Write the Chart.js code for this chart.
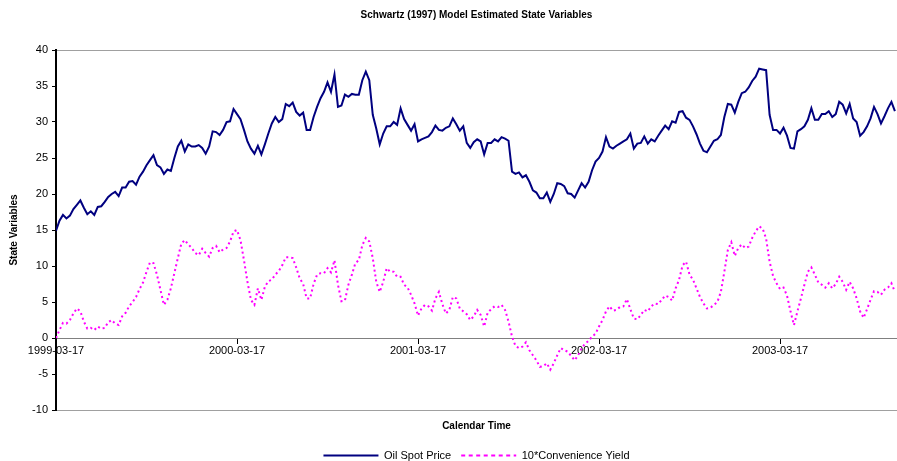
<!DOCTYPE html>
<html>
<head>
<meta charset="utf-8">
<script src="https://cdn.jsdelivr.net/npm/chart.js@4.4.0/dist/chart.umd.min.js"></script>
<style>
  body { margin: 0; background: #fff; }
  #wrap { width: 897px; height: 461px; }
</style>
</head>
<body>
<div id="wrap"><canvas id="stateChart"></canvas></div>
<script>
// weekly observations, week 0 = 1999-03-17
const oilSpotPrice = [
  14.9, 16.3, 17.1, 16.6, 17.0, 17.9, 18.5, 19.1, 18.1, 17.2,
  17.6, 17.1, 18.2, 18.3, 18.9, 19.6, 20.0, 20.3, 19.7, 20.9,
  20.9, 21.7, 21.8, 21.3, 22.4, 23.1, 24.0, 24.7, 25.4, 24.0,
  23.7, 22.8, 23.4, 23.2, 25.0, 26.6, 27.4, 25.9, 26.9, 26.6,
  26.6, 26.8, 26.4, 25.6, 26.6, 28.7, 28.6, 28.2, 28.9, 30.0,
  30.1, 31.8, 31.1, 30.4, 28.9, 27.3, 26.3, 25.6, 26.7, 25.5,
  26.9, 28.4, 29.8, 30.7, 30.0, 30.4, 32.5, 32.2, 32.7, 31.4,
  30.9, 31.3, 28.9, 28.9, 30.7, 32.1, 33.3, 34.2, 35.5, 34.2,
  36.6, 32.1, 32.3, 33.8, 33.5, 33.9, 33.8, 33.8, 35.8, 37.0,
  35.8, 31.0, 29.1, 26.9, 28.4, 29.4, 29.4, 30.0, 29.6, 31.9,
  30.4, 29.6, 28.8, 29.7, 27.3, 27.6, 27.8, 28.0, 28.6, 29.5,
  28.9, 28.8, 29.2, 29.4, 30.5, 29.7, 28.8, 29.4, 27.1, 26.4,
  27.2, 27.6, 27.3, 25.5, 27.1, 27.1, 27.6, 27.3, 27.9, 27.7,
  27.4, 23.1, 22.8, 23.0, 22.3, 22.6, 21.7, 20.5, 20.2, 19.4,
  19.4, 20.2, 18.9, 20.0, 21.5, 21.4, 21.1, 20.1, 20.0, 19.5,
  20.5, 21.5, 20.9, 21.7, 23.3, 24.5, 25.0, 25.9, 27.9, 26.6,
  26.3, 26.7, 27.0, 27.3, 27.6, 28.4, 26.3, 27.0, 27.1, 28.0,
  27.0, 27.6, 27.3, 28.1, 28.8, 29.5, 29.0, 30.1, 29.9, 31.4,
  31.5, 30.6, 30.3, 29.4, 28.3, 27.0, 26.0, 25.8, 26.6, 27.4,
  27.6, 28.2, 30.7, 32.5, 32.4, 31.3, 32.8, 34.0, 34.2, 34.8,
  35.7, 36.3, 37.4, 37.3, 37.2, 31.0, 28.9, 28.9, 28.4, 29.2,
  28.1, 26.4, 26.3, 28.7, 29.0, 29.4, 30.3, 31.9, 30.3, 30.3,
  31.1, 31.1, 31.5, 30.7, 31.1, 32.8, 32.4, 31.2, 32.5, 30.5,
  30.0, 28.1, 28.6, 29.4, 30.5, 32.1, 31.1, 29.8, 30.8, 31.9,
  32.8, 31.5
];

const convenienceYield10 = [
  0.0, 1.1, 2.1, 2.0, 2.5, 3.4, 4.1, 3.7, 2.3, 1.3,
  1.4, 1.1, 1.6, 1.3, 1.4, 2.2, 2.5, 2.0, 1.8, 3.0,
  3.5, 4.4, 5.0, 5.7, 6.8, 7.7, 9.2, 10.5, 10.4, 8.8,
  6.7, 4.6, 5.3, 6.9, 9.0, 11.1, 13.1, 13.6, 13.0, 12.5,
  11.8, 11.5, 12.4, 11.8, 11.3, 12.5, 12.8, 11.9, 12.3, 12.5,
  13.4, 14.8, 15.0, 13.6, 10.8, 7.8, 5.3, 4.6, 6.9, 5.3,
  7.1, 7.9, 8.1, 8.8, 9.3, 10.1, 11.2, 11.2, 11.1, 9.8,
  8.3, 7.5, 5.5, 5.5, 7.5, 8.8, 9.0, 9.0, 9.7, 9.1,
  10.8, 7.4, 5.1, 5.2, 7.4, 8.8, 10.4, 10.8, 12.9, 13.9,
  13.4, 11.1, 7.8, 6.4, 7.8, 9.7, 9.2, 9.2, 8.5, 8.5,
  7.4, 7.0, 6.0, 4.8, 3.1, 4.1, 4.6, 4.4, 3.8, 5.5,
  6.4, 4.7, 3.4, 3.9, 5.7, 5.5, 4.1, 3.7, 3.3, 2.5,
  3.0, 3.9, 3.2, 1.6, 3.5, 4.0, 4.4, 4.3, 4.6, 3.9,
  2.3, 0.2, -1.1, -1.4, -1.2, -0.6, -1.7, -2.4, -3.1, -4.0,
  -3.9, -3.5, -4.4, -3.5, -2.4, -1.4, -1.7, -1.9, -2.5, -3.1,
  -2.4, -1.4, -0.8, -0.4, 0.2, 0.6, 1.6, 2.5, 3.7, 4.4,
  3.8, 3.9, 4.3, 4.4, 5.4, 4.0, 2.7, 2.6, 3.2, 3.9,
  3.7, 4.4, 4.8, 4.7, 5.3, 5.9, 5.7, 5.2, 6.9, 8.1,
  10.1, 10.6, 8.8, 8.1, 6.9, 5.7, 4.8, 4.1, 4.2, 4.6,
  5.0, 6.4, 9.2, 12.2, 13.3, 11.4, 12.5, 13.0, 12.5, 12.7,
  13.9, 14.8, 15.5, 15.2, 13.8, 10.6, 8.6, 7.6, 6.8, 7.0,
  5.9, 3.7, 1.8, 3.7, 5.5, 7.4, 9.2, 9.8, 8.8, 7.7,
  7.4, 7.0, 7.6, 6.9, 7.5, 8.5, 7.8, 6.7, 7.8, 6.9,
  5.5, 3.7, 2.8, 4.0, 5.3, 6.5, 6.4, 6.0, 6.7, 7.0,
  7.6, 6.4
];

const tickWeeks = [0, 52, 104, 156, 208];
const tickLabels = ['1999-03-17', '2000-03-17', '2001-03-17', '2002-03-17', '2003-03-17'];

const weeks = oilSpotPrice.map((_, i) => i);
const fontFamily = "'Liberation Sans', Arial, sans-serif";

const ctx = document.getElementById('stateChart').getContext('2d');

new Chart(ctx, {
    type: 'line',
    data: {
        labels: weeks,
        datasets: [{
            label: 'Oil Spot Price',
            data: oilSpotPrice,
            borderColor: '#000080',
            backgroundColor: '#000080',
            borderWidth: 2,
            pointRadius: 0,
            tension: 0,
            fill: false
        }, {
            label: '10*Convenience Yield',
            data: convenienceYield10,
            borderColor: '#ff00ff',
            backgroundColor: '#ff00ff',
            borderWidth: 2,
            borderDash: [2, 3],
            pointRadius: 0,
            tension: 0,
            fill: false
        }]
    },
    options: {
        responsive: true,
        maintainAspectRatio: false,
        animation: false,
        layout: { padding: { top: 0, left: 0, right: 0, bottom: -10 } },
        scales: {
            x: {
                type: 'linear',
                position: { y: 0 },
                min: 0,
                max: 241.6,
                afterBuildTicks: scale => {
                    scale.ticks = tickWeeks.map(v => ({ value: v }));
                },
                ticks: {
                    autoSkip: false,
                    maxRotation: 0,
                    padding: 1,
                    color: '#000',
                    font: { family: fontFamily, size: 11 },
                    callback: value => tickLabels[tickWeeks.indexOf(value)]
                },
                grid: {
                    drawOnChartArea: false,
                    drawTicks: true,
                    tickLength: 5,
                    tickColor: '#000'
                },
                border: { display: true, color: '#808080', width: 1 }
            },
            y: {
                min: -10,
                max: 40,
                ticks: {
                    stepSize: 5,
                    padding: 4,
                    color: '#000',
                    font: { family: fontFamily, size: 11 }
                },
                grid: {
                    color: c => (c.tick && (c.tick.value === 40 || c.tick.value === -10)) ? '#a0a0a0' : 'rgba(0,0,0,0)',
                    tickColor: '#000',
                    tickLength: 4
                },
                border: { display: true, color: '#000', width: 2 },
                title: {
                    display: true,
                    text: 'State Variables',
                    color: '#000',
                    font: { family: fontFamily, size: 10, weight: 'bold' },
                    padding: { top: 8, bottom: 0 }
                },
                afterFit: scale => { scale.width = 56; }
            }
        },
        plugins: {
            title: {
                display: true,
                text: 'Schwartz (1997) Model Estimated State Variables',
                color: '#000',
                fullSize: false,
                font: { family: fontFamily, size: 10, weight: 'bold' },
                padding: { top: 9, bottom: 29 }
            },
            subtitle: {
                display: true,
                position: 'bottom',
                text: 'Calendar Time',
                color: '#000',
                fullSize: false,
                font: { family: fontFamily, size: 10, weight: 'bold' },
                padding: { top: 10, bottom: 8 }
            },
            legend: {
                position: 'bottom',
                fullSize: false,
                weight: 1600,
                labels: {
                    usePointStyle: true,
                    pointStyle: 'line',
                    pointStyleWidth: 55,
                    boxHeight: 11,
                    padding: 10,
                    color: '#000',
                    font: { family: fontFamily, size: 11 },
                    generateLabels: chart => {
                        const items = Chart.defaults.plugins.legend.labels.generateLabels(chart);
                        items.forEach(item => {
                            const ds = chart.data.datasets[item.datasetIndex];
                            item.strokeStyle = ds.borderColor;
                            item.lineWidth = 2;
                            item.lineDash = ds.borderDash ? [4, 3.5] : [];
                        });
                        return items;
                    }
                }
            },
            tooltip: { enabled: false }
        }
    }
});
</script>
</body>
</html>
